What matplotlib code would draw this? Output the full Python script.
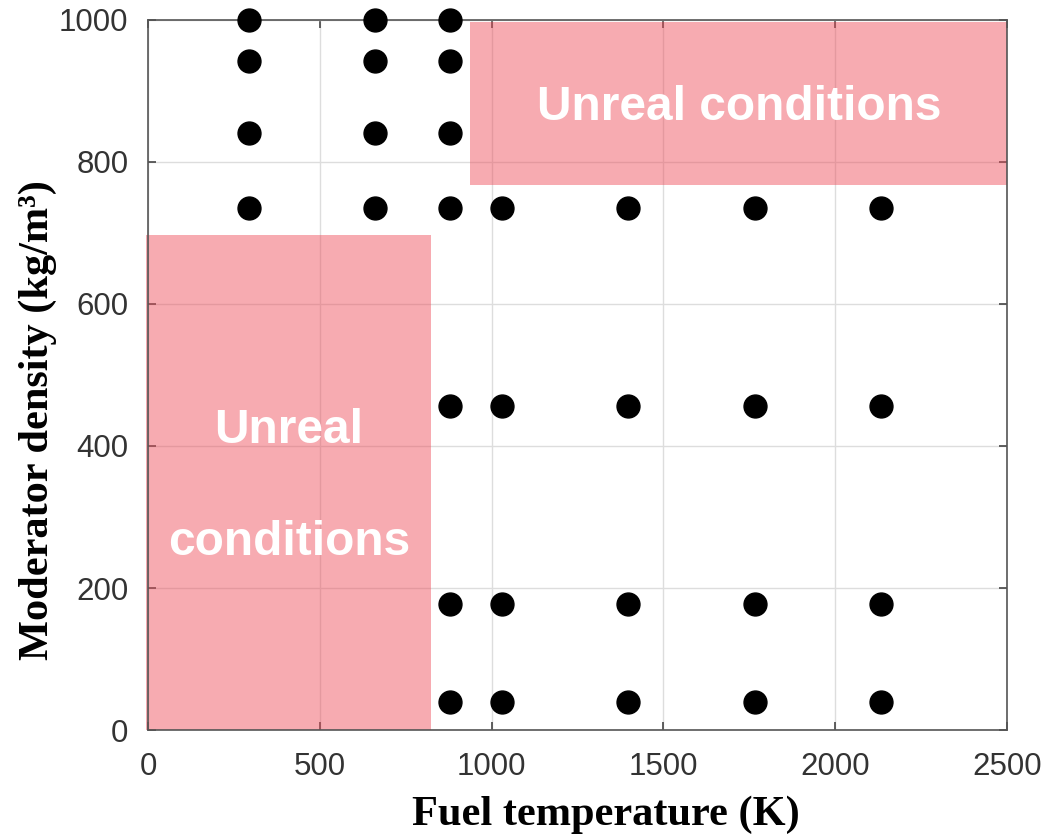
import matplotlib
matplotlib.use("Agg")
import matplotlib.pyplot as plt
from matplotlib.patches import Rectangle

# fuel temperature (K) and moderator density (kg/m3) grid points
t_cold = [294, 660, 880]
rho_high = [1000, 942, 841]
t_all = [294, 660, 880, 1030, 1397, 1767, 2133]
rho_mid = 735
t_hot = [880, 1030, 1397, 1767, 2133]
rho_low = [456, 177, 39]

# excluded regions: (x0, x1, y0, y1)
region_low = (-6, 824, 0, 697)
region_high = (937, 2500, 768, 997)

xticks = [0, 500, 1000, 1500, 2000, 2500]
yticks = [0, 200, 400, 600, 800, 1000]

fig = plt.figure(figsize=(10.55, 8.39), dpi=100)
ax = fig.add_axes([0.1403, 0.1299, 0.8142, 0.8463])

ax.set_xlim(0, 2500)
ax.set_ylim(0, 1000)
ax.set_xticks(xticks)
ax.set_yticks(yticks)
ax.grid(True, color="#dddddd", linewidth=1.0, zorder=0)
ax.set_axisbelow(True)

pink = "#ee4d5a"
for x0, x1, y0, y1 in (region_low, region_high):
    ax.add_patch(Rectangle((x0, y0), x1 - x0, y1 - y0, facecolor=pink,
                           alpha=0.47, edgecolor="none", zorder=2, clip_on=False))

pts_x, pts_y = [], []
for r in rho_high:
    pts_x += t_cold
    pts_y += [r] * len(t_cold)
pts_x += t_all
pts_y += [rho_mid] * len(t_all)
for r in rho_low:
    pts_x += t_hot
    pts_y += [r] * len(t_hot)
ax.plot(pts_x, pts_y, "o", color="black", markersize=16.5, clip_on=False, zorder=5)

txt = dict(color="white", fontweight="bold", family="Liberation Sans",
           fontsize=34.5, ha="center", va="center", zorder=4)
ax.text(410, 422, "Unreal", **txt)
ax.text(410, 264, "conditions", **txt)
ax.text(1720, 877, "Unreal conditions", **txt)

for s in ax.spines.values():
    s.set_color("#555555")
    s.set_linewidth(1.2)
ax.tick_params(direction="in", length=6, width=1.2, color="#444444",
               top=True, right=True, labelsize=22.5, labelcolor="#333333")
ax.tick_params(axis="x", pad=16)
ax.tick_params(axis="y", pad=14)
for lab in ax.get_xticklabels() + ax.get_yticklabels():
    lab.set_family("Liberation Sans")

lbl = dict(family="Liberation Serif", fontweight="bold", fontsize=30.5,
           ha="center", va="center", transform=ax.transAxes)
ax.text(0.533, -0.12, "Fuel temperature (K)", **lbl)
ax.text(-0.128, 0.437, "Moderator density (kg/m\u00b3)", rotation=90, **lbl)

fig.savefig("out.png", dpi=100)
